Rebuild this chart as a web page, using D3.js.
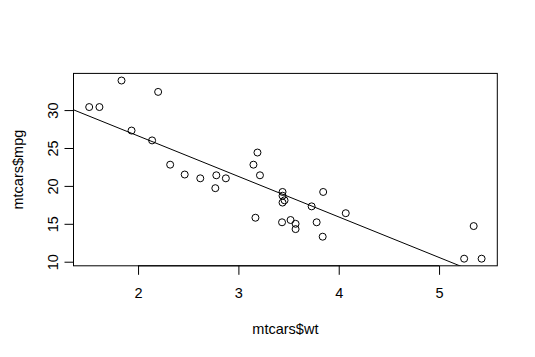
<!DOCTYPE html>
<html lang="en">
<head>
<meta charset="UTF-8"/>
<title>mtcars wt vs mpg</title>
<script src="https://d3js.org/d3.v7.min.js"></script>
<style>
	body { margin: 0; background: #fff; }
	text { font-family: "Liberation Sans", Arial, sans-serif; font-size: 14.5px; fill: #000; }
</style>
</head>
<body>
<script>
	// mtcars data
	var wt = [2.620, 2.875, 2.320, 3.215, 3.440, 3.460, 3.570, 3.190, 3.150, 3.440, 3.440,
	          4.070, 3.730, 3.780, 5.250, 5.424, 5.345, 2.200, 1.615, 1.835, 2.465, 3.520,
	          3.435, 3.840, 3.845, 1.935, 2.140, 1.513, 3.170, 2.770, 3.570, 2.780];
	var mpg = [21.0, 21.0, 22.8, 21.4, 18.7, 18.1, 14.3, 24.4, 22.8, 19.2, 17.8,
	           16.4, 17.3, 15.2, 10.4, 10.4, 14.7, 32.4, 30.4, 33.9, 21.5, 15.5,
	           15.2, 13.3, 19.2, 27.3, 26.0, 30.4, 15.8, 19.7, 15.0, 21.4];
	var xTicks = [2, 3, 4, 5];
	var yTicks = [10, 15, 20, 25, 30];
	// lm(mpg ~ wt)
	var intercept = 37.2851;
	var slope = -5.3445;

	var w = 535, h = 357;
	var padL = 73.5, padR = 497.3, padT = 73.4, padB = 265.8;

	var xr = d3.extent(wt), yr = d3.extent(mpg);
	var xs = (xr[1] - xr[0]) * 0.04, ys = (yr[1] - yr[0]) * 0.04;

	var xScale = d3.scaleLinear()
		.domain([xr[0] - xs, xr[1] + xs])
		.range([padL, padR]);
	var yScale = d3.scaleLinear()
		.domain([yr[0] - ys, yr[1] + ys])
		.range([padB, padT]);

	var svg = d3.select("body").append("svg")
		.attr("width", w)
		.attr("height", h);

	svg.append("clipPath").attr("id", "clip")
		.append("rect")
		.attr("x", padL).attr("y", padT)
		.attr("width", padR - padL).attr("height", padB - padT);

	// regression line
	var x0 = xScale.domain()[0], x1 = xScale.domain()[1];
	svg.append("line")
		.attr("clip-path", "url(#clip)")
		.attr("x1", xScale(x0)).attr("y1", yScale(intercept + slope * x0))
		.attr("x2", xScale(x1)).attr("y2", yScale(intercept + slope * x1))
		.attr("stroke", "#000").attr("stroke-width", 1);

	svg.selectAll("circle")
		.data(wt)
		.enter()
		.append("circle")
		.attr("cx", function(d) { return xScale(d); })
		.attr("cy", function(d, i) { return yScale(mpg[i]); })
		.attr("r", 3.5)
		.attr("fill", "none")
		.attr("stroke", "#000")
		.attr("stroke-width", 1);

	svg.append("rect")
		.attr("x", padL).attr("y", padT)
		.attr("width", padR - padL).attr("height", padB - padT)
		.attr("fill", "none").attr("stroke", "#000").attr("stroke-width", 1);

	var xAxis = d3.axisBottom(xScale).tickValues(xTicks).tickFormat(d3.format("d"))
		.tickSize(9).tickPadding(13).tickSizeOuter(0);
	var gx = svg.append("g")
		.attr("transform", "translate(0," + padB + ")")
		.call(xAxis);
	gx.select(".domain")
		.attr("d", "M" + xScale(xTicks[0]) + ",0H" + xScale(xTicks[xTicks.length - 1]));
	gx.selectAll("text").style("font-size", "14.5px").attr("font-family", null);

	var yAxis = d3.axisLeft(yScale).tickValues(yTicks).tickFormat(d3.format("d"))
		.tickSize(9).tickSizeOuter(0);
	var gy = svg.append("g")
		.attr("transform", "translate(" + padL + ",0)")
		.call(yAxis);
	gy.select(".domain")
		.attr("d", "M0," + yScale(yTicks[0]) + "V" + yScale(yTicks[yTicks.length - 1]));
	gy.selectAll("text")
		.attr("x", null).attr("dy", null)
		.attr("text-anchor", "middle")
		.attr("transform", "translate(-16,0) rotate(-90)")
		.style("font-size", "14.5px");

	svg.append("text")
		.attr("x", (padL + padR) / 2)
		.attr("y", 334)
		.attr("text-anchor", "middle")
		.text("mtcars$wt");

	svg.append("text")
		.attr("transform", "translate(23," + ((padT + padB) / 2) + ") rotate(-90)")
		.attr("text-anchor", "middle")
		.text("mtcars$mpg");
</script>
</body>
</html>
